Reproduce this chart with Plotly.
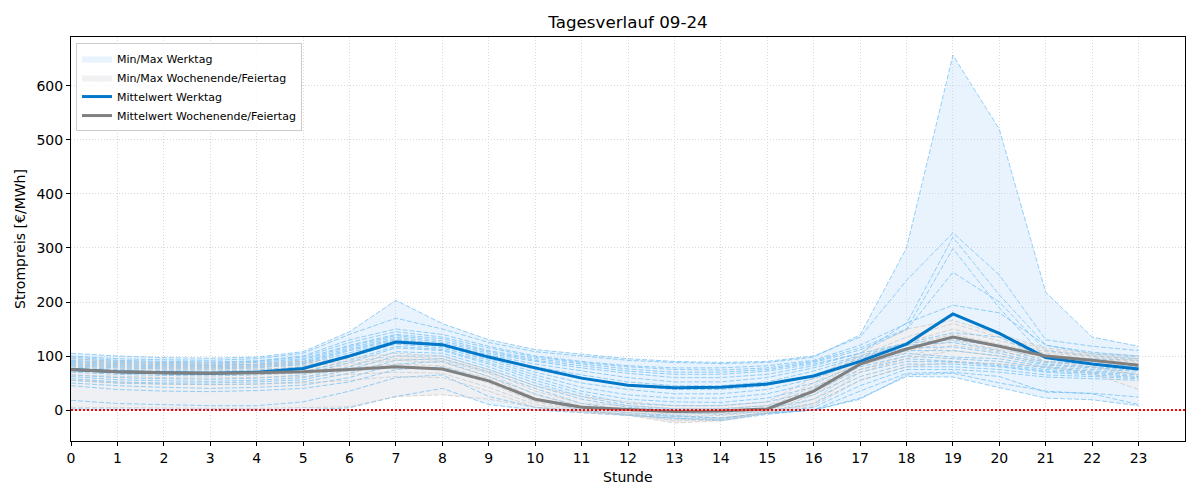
import numpy as np
import plotly.graph_objects as go

hours = list(range(24))
x_tick_labels = [str(h) for h in hours]
y_tick_values = [0, 100, 200, 300, 400, 500, 600]

# Individual weekdays, €/MWh per hour 0..23
werktage = [
    [100, 95, 93, 92, 95, 105, 140, 170, 150, 125, 108, 100, 92, 88, 86, 88, 98, 139, 300, 657, 520, 218, 135, 118],
    [105, 100, 97, 96, 98, 108, 145, 203, 160, 130, 112, 104, 95, 90, 88, 90, 100, 135, 240, 328, 250, 130, 118, 110],
    [98, 92, 90, 89, 91, 100, 130, 150, 140, 118, 100, 90, 82, 78, 78, 82, 92, 120, 160, 320, 213, 120, 107, 100],
    [95, 90, 88, 87, 90, 98, 125, 145, 135, 115, 98, 88, 80, 75, 74, 78, 90, 115, 150, 299, 189, 96, 95, 92],
    [92, 88, 86, 85, 88, 95, 120, 140, 132, 110, 95, 85, 76, 70, 70, 75, 88, 111, 148, 255, 200, 110, 100, 95],
    [90, 86, 84, 83, 85, 93, 118, 138, 128, 108, 92, 82, 72, 66, 66, 72, 85, 105, 161, 194, 180, 120, 104, 98],
    [88, 84, 82, 82, 84, 90, 115, 135, 125, 105, 90, 78, 68, 60, 60, 66, 82, 105, 124, 143, 135, 96, 90, 85],
    [86, 82, 80, 80, 82, 88, 112, 132, 122, 102, 85, 72, 60, 52, 52, 60, 78, 100, 124, 130, 118, 90, 86, 80],
    [84, 80, 78, 78, 80, 86, 110, 130, 120, 100, 80, 65, 52, 45, 45, 52, 72, 98, 120, 125, 110, 88, 84, 78],
    [82, 78, 76, 76, 78, 84, 106, 128, 118, 98, 75, 58, 45, 38, 38, 45, 65, 95, 115, 117, 105, 85, 80, 76],
    [80, 75, 73, 72, 74, 80, 102, 125, 118, 95, 70, 50, 38, 30, 30, 38, 58, 90, 110, 110, 100, 83, 78, 74],
    [75, 70, 68, 67, 69, 75, 98, 122, 115, 92, 65, 42, 28, 22, 22, 30, 50, 85, 105, 98, 95, 80, 75, 72],
    [70, 66, 64, 63, 65, 70, 92, 118, 112, 88, 60, 35, 20, 15, 14, 22, 42, 80, 100, 95, 90, 78, 72, 68],
    [65, 60, 58, 57, 59, 65, 88, 115, 110, 85, 55, 30, 12, 8, 8, 15, 35, 75, 95, 90, 85, 75, 70, 65],
    [62, 56, 54, 53, 55, 60, 80, 108, 105, 80, 50, 25, 8, 2, 2, 8, 28, 70, 90, 89, 82, 72, 68, 62],
    [58, 52, 50, 50, 52, 56, 75, 100, 100, 75, 45, 20, 5, 0, -2, 2, 20, 62, 85, 85, 80, 70, 65, 60],
    [55, 50, 48, 47, 48, 52, 68, 92, 95, 70, 40, 12, 0, -5, -8, -2, 12, 55, 80, 80, 75, 65, 62, 58],
    [50, 45, 42, 40, 42, 46, 60, 85, 90, 62, 30, 5, -5, -10, -15, -5, 5, 45, 75, 75, 70, 61, 58, 55],
    [45, 38, 35, 34, 36, 40, 52, 75, 80, 55, 20, 0, -10, -15, -20, -8, 0, 35, 68, 70, 62, 33, 31, 24],
    [18, 12, 10, 8, 8, 15, 35, 60, 65, 25, 5, -2, -8, -12, -15, -6, 0, 22, 62, 61, 41, 22, 19, 8],
    [2, 1, 0, 0, 0, 0, 4, 25, 40, 10, 0, -5, -10, -15, -18, -6, 0, 20, 65, 68, 50, 35, 30, 10],
]

# Individual weekend / holiday days
wochenenden = [
    [95, 90, 88, 87, 88, 90, 95, 105, 100, 75, 45, 25, 15, 8, 8, 15, 60, 105, 150, 166, 140, 115, 105, 100],
    [90, 86, 84, 83, 84, 86, 90, 100, 95, 72, 35, 12, 8, 3, 3, 8, 50, 100, 135, 160, 135, 112, 102, 95],
    [85, 82, 80, 79, 80, 82, 86, 95, 92, 68, 28, 8, 3, -2, -2, 3, 45, 95, 125, 150, 128, 108, 100, 92],
    [82, 78, 76, 75, 76, 78, 82, 92, 88, 62, 22, 5, 0, -5, -4, 0, 40, 92, 120, 140, 122, 105, 98, 90],
    [78, 74, 72, 71, 72, 74, 78, 85, 82, 58, 18, 3, -2, -8, -6, -1, 35, 88, 115, 135, 118, 102, 95, 88],
    [72, 68, 66, 65, 66, 68, 72, 78, 75, 50, 15, 0, -5, -12, -10, -3, 28, 82, 108, 128, 112, 98, 90, 82],
    [65, 62, 60, 59, 60, 62, 66, 70, 68, 42, 10, -2, -8, -18, -15, -5, 20, 75, 100, 120, 108, 95, 85, 75],
    [55, 50, 48, 47, 48, 50, 55, 62, 60, 35, 5, -5, -10, -24, -20, -6, 12, 70, 95, 110, 100, 90, 80, 65],
    [5, 4, 3, 3, 3, 4, 6, 25, 28, 20, 5, -3, -8, -20, -18, -5, 8, 55, 80, 88, 85, 80, 68, 38],
]

mittel_werktag = [75, 71, 69, 68, 70, 77, 100, 126, 121, 98, 78, 59, 46, 41, 42, 48, 63, 90, 122, 178, 142, 97, 85, 76]
mittel_wochenende = [75, 71, 69, 68, 69, 71, 75, 80, 76, 54, 20, 5, 1, -3, -2, 2, 35, 85, 113, 135, 118, 100, 92, 83]

wk = np.array(werktage, dtype=float)
we = np.array(wochenenden, dtype=float)

C_WK_FILL = "rgba(190,222,248,0.35)"
C_WE_FILL = "rgba(238,239,241,0.85)"
C_WK_DAY = "rgba(110,190,245,0.72)"
C_WE_DAY = "rgba(195,195,195,0.65)"
C_WK_MEAN = "#0077c8"
C_WE_MEAN = "#808080"
DASH = "5px,2px"

fig = go.Figure()

# weekday band
fig.add_trace(go.Scatter(x=hours, y=wk.max(axis=0), mode="lines", line=dict(width=0, color=C_WK_FILL),
                         showlegend=False, hoverinfo="skip"))
fig.add_trace(go.Scatter(x=hours, y=wk.min(axis=0), mode="lines", line=dict(width=0, color=C_WK_FILL),
                         fill="tonexty", fillcolor=C_WK_FILL, name="Min/Max Werktag", hoverinfo="skip"))
# weekend band
fig.add_trace(go.Scatter(x=hours, y=we.max(axis=0), mode="lines", line=dict(width=0, color=C_WE_FILL),
                         showlegend=False, hoverinfo="skip"))
fig.add_trace(go.Scatter(x=hours, y=we.min(axis=0), mode="lines", line=dict(width=0, color=C_WE_FILL),
                         fill="tonexty", fillcolor=C_WE_FILL, name="Min/Max Wochenende/Feiertag", hoverinfo="skip"))

for day in werktage:
    fig.add_trace(go.Scatter(x=hours, y=day, mode="lines", line=dict(width=1, color=C_WK_DAY, dash=DASH),
                             showlegend=False, hoverinfo="skip"))
for day in wochenenden:
    fig.add_trace(go.Scatter(x=hours, y=day, mode="lines", line=dict(width=1, color=C_WE_DAY, dash=DASH),
                             showlegend=False, hoverinfo="skip"))

fig.add_trace(go.Scatter(x=hours, y=mittel_werktag, mode="lines", line=dict(width=3, color=C_WK_MEAN),
                         name="Mittelwert Werktag"))
fig.add_trace(go.Scatter(x=hours, y=mittel_wochenende, mode="lines", line=dict(width=3, color=C_WE_MEAN),
                         name="Mittelwert Wochenende/Feiertag"))

# zero line
fig.add_trace(go.Scatter(x=[0, 24], y=[0, 0], mode="lines", line=dict(width=2, color="red", dash="2px,2px"),
                         showlegend=False, hoverinfo="skip"))

FONT = "DejaVu Sans"
fig.update_layout(
    width=1200, height=500,
    margin=dict(l=71, r=15, t=37, b=59),
    paper_bgcolor="white", plot_bgcolor="white",
    font=dict(family=FONT, size=14, color="black"),
    title=dict(text="Tagesverlauf 09-24", x=0.5, xref="paper", y=1 - 22 / 500, yref="container",
               xanchor="center", yanchor="middle", font=dict(size=16.7, family=FONT)),
    showlegend=True,
    legend=dict(x=0.0045, y=0.985, xanchor="left", yanchor="top", bgcolor="rgba(255,255,255,0.8)",
                bordercolor="#cccccc", borderwidth=1, font=dict(size=11, family=FONT),
                traceorder="normal", tracegroupgap=0, itemwidth=30),
    annotations=[
        dict(text="Stunde", x=0.5, y=-36 / 404, xref="paper", yref="paper", showarrow=False,
             xanchor="center", yanchor="middle", font=dict(size=14, family=FONT)),
        dict(text="Strompreis [€/MWh]", x=(20 - 71) / 1114, y=0.5, xref="paper", yref="paper",
             showarrow=False, textangle=-90, xanchor="center", yanchor="middle", font=dict(size=14, family=FONT)),
    ],
)
fig.update_xaxes(range=[0, 24], tickmode="array", tickvals=hours, ticktext=x_tick_labels,
                 showline=True, linecolor="black", linewidth=1, mirror=True,
                 ticks="outside", ticklen=4, tickcolor="black",
                 showgrid=True, gridcolor="#d9d9d9", gridwidth=1, griddash="1px,2px", zeroline=False)
fig.update_yaxes(range=[-57.4, 690.7], tickmode="array", tickvals=y_tick_values,
                 showline=True, linecolor="black", linewidth=1, mirror=True,
                 ticks="outside", ticklen=4, tickcolor="black",
                 showgrid=True, gridcolor="#d9d9d9", gridwidth=1, griddash="1px,2px", zeroline=False)

fig.write_html("out.html")
